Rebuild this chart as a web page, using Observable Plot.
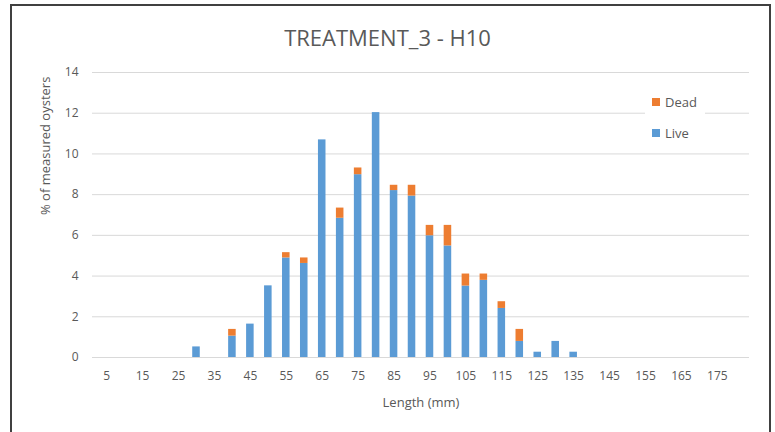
<!DOCTYPE html>
<html>
<head>
<meta charset="utf-8">
<script src="https://cdn.jsdelivr.net/npm/d3@7"></script>
<script src="https://cdn.jsdelivr.net/npm/@observablehq/plot@0.6"></script>
<style>
  html, body { margin: 0; padding: 0; background: #fff; }
  #wrap { position: relative; width: 775px; height: 432px; overflow: hidden; font-family: "Open Sans", sans-serif; color: #595959; }
  #frame { position: absolute; left: 10px; top: 4px; width: 761px; height: 445px; border: 2px solid #404040; box-sizing: border-box; }
  #title { position: absolute; left: 0; width: 775px; top: 22px; text-align: center; font-size: 22px; color: #595959; }
  #chart { position: absolute; left: 0; top: 0; }
  #legend { position: absolute; left: 645px; top: 91px; width: 60px; height: 50px; background: #fff; font-size: 13px; }
  .li { position: absolute; left: 7px; display: flex; align-items: center; }
  .sw { width: 8px; height: 8px; margin-right: 5px; }
</style>
</head>
<body>
<div id="wrap">
  <div id="frame"></div>
  <div id="chart"></div>
  <div id="title">TREATMENT_3 - H10</div>
  <div id="legend">
    <div class="li" style="top:2px"><div class="sw" style="background:#ED7D31"></div>Dead</div>
    <div class="li" style="top:33px"><div class="sw" style="background:#5B9BD5"></div>Live</div>
  </div>
</div>
<script>
const lengths = [5,10,15,20,25,30,35,40,45,50,55,60,65,70,75,80,85,90,95,100,105,110,115,120,125,130,135,140,145,150,155,160,165,170,175,180];
const live = [0,0,0,0,0,0.52,0,1.05,1.64,3.52,4.89,4.62,10.69,6.84,8.98,12.03,8.20,7.93,5.98,5.48,3.51,3.79,2.41,0.79,0.26,0.79,0.26,0,0,0,0,0,0,0,0,0];
const dead = [0,0,0,0,0,0,0,0.33,0,0,0.26,0.27,0,0.50,0.33,0,0.26,0.53,0.51,1.01,0.59,0.31,0.33,0.59,0,0,0,0,0,0,0,0,0,0,0,0];
const xTickLabels = [5,15,25,35,45,55,65,75,85,95,105,115,125,135,145,155,165,175];
const yTicks = [0,2,4,6,8,10,12,14];
const series = ["Live","Dead"];
const colors = ["#5B9BD5","#ED7D31"];

const rows = [];
lengths.forEach((l, i) => rows.push({length: l, series: "Live", value: live[i]}));
lengths.forEach((l, i) => rows.push({length: l, series: "Dead", value: dead[i]}));

const plot = Plot.plot({
  width: 775,
  height: 432,
  marginTop: 72,
  marginBottom: 75,
  marginLeft: 92,
  marginRight: 26,
  style: {fontFamily: '"Open Sans", sans-serif', fontSize: "12px", color: "#595959", background: "transparent"},
  x: {type: "band", domain: lengths, padding: 0.58, label: null},
  y: {domain: [0, 14], label: null},
  color: {domain: series, range: colors},
  marks: [
    Plot.gridY(yTicks, {stroke: "#d9d9d9", strokeOpacity: 1, strokeWidth: 1}),
    Plot.barY(rows, {x: "length", y: "value", fill: "series", order: series}),
    Plot.axisY({ticks: yTicks, tickSize: 0, tickPadding: 14, label: null, fill: "#595959"}),
    Plot.axisX({ticks: xTickLabels, tickSize: 0, tickPadding: 14, label: null, fill: "#595959"}),
    Plot.text(["% of measured oysters"], {frameAnchor: "left", dx: -47, rotate: -90, fontSize: 13, fill: "#595959"}),
    Plot.text(["Length (mm)"], {frameAnchor: "bottom", dy: 49, fontSize: 13, fill: "#595959"})
  ]
});
document.getElementById("chart").appendChild(plot);
</script>
</body>
</html>
